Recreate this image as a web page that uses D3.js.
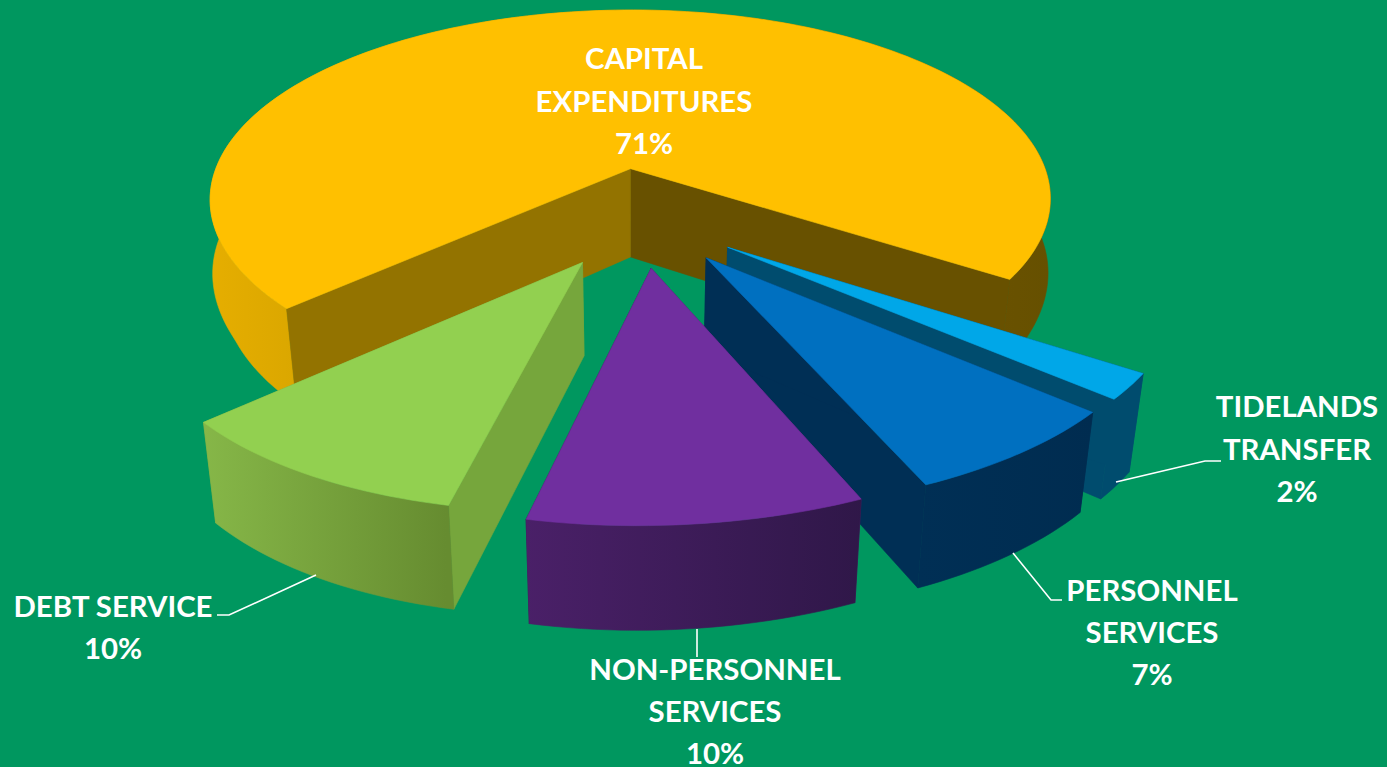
<!DOCTYPE html>
<html>
<head>
<meta charset="utf-8">
<script src="https://cdn.jsdelivr.net/npm/d3@7/dist/d3.min.js"></script>
<style>
html,body{margin:0;padding:0;background:#00975f;overflow:hidden}
svg{display:block}
text{font-family:Lato,"Open Sans",sans-serif;font-weight:700;fill:#fff;text-anchor:middle}
</style>
</head>
<body>
<svg id="c" width="1387" height="767"></svg>
<script>
// Data
const categories = ["CAPITAL EXPENDITURES","TIDELANDS TRANSFER","PERSONNEL SERVICES","NON-PERSONNEL SERVICES","DEBT SERVICE"];
const shares = [71.1,2,7,10.05,9.85];
const labelLines = [["CAPITAL","EXPENDITURES"],["TIDELANDS","TRANSFER"],["PERSONNEL","SERVICES"],["NON-PERSONNEL","SERVICES"],["DEBT SERVICE"]];

// Layout and style
const W=1387,H=767;
const cam={cx:639,cy:216.5,R:432,K:200,p:0.168,depth:91,q:0.12,taper:0.972,explode:0.25,skewX:8.7,skewY:3.5,flare:0.08,flareV:0.15};
const styles=[
 {top:"#ffc000",start:"#685100",end:"#937300",wall:[["0%","#e6ae00"],["9%","#dca800"],["50%","#b08700"],["92%","#6a5200"],["100%","#665000"]],wx:[208,1050]},
 {top:"#00a7e8",start:"#004c6e",end:"#004c6e",wall:[["0%","#004c6e"],["100%","#004c6e"]],wx:[1100,1145]},
 {top:"#0070c0",start:"#002f55",end:"#002f55",wall:[["0%","#002f55"],["100%","#002c50"]],wx:[920,1095]},
 {top:"#702f9f",start:"#32184e",end:"#4a2068",wall:[["0%","#4a2068"],["100%","#2f1748"]],wx:[525,865]},
 {top:"#92d050",start:"#76a63c",end:"#76a63c",explode:0.255,radius:0.98,wall:[["0%","#86b748"],["100%","#668c30"]],wx:[203,446]}
];
const labelPos=[
 {x:644,y:[69,112,154]},
 {x:1297,y:[417,460,502]},
 {x:1152,y:[601,643,685]},
 {x:715,y:[680,722,764]},
 {x:113,y:[617,659]}
];
const leaders=[null,
 [[1116,482],[1205,461],[1221,461]],
 [[1013,553],[1051,600],[1062,600]],
 [[697,629],[697,657]],
 [[217,615],[229,615],[316,575]]
];
const paintOrder=[0,1,2,4,3];

const svg=d3.select("#c");
const defs=svg.append("defs");
svg.append("rect").attr("width",W).attr("height",H).attr("fill","#00975f");

const pie=d3.pie().sort(null).startAngle(-132.7*Math.PI/180).endAngle((360-132.7)*Math.PI/180);
const arcs=pie(shares);
const line=d3.line();
const proj=(u,v,z)=>{
  const w=1-cam.p*v, f=Math.pow(Math.max(0,v),3);
  let x=cam.cx+cam.R*u/w-cam.skewX*f, y=cam.cy+cam.K*v/w-cam.skewY*f;
  if(z){
    const t=cam.taper+cam.flare*Math.max(0,cam.flareV-v);
    x=cam.cx+(x-cam.cx)*t; y+=cam.depth*(1+cam.q*v);
  }
  return [x,y];
};

paintOrder.forEach(i=>{
  const a=arcs[i], st=styles[i];
  const mid=(a.startAngle+a.endAngle)/2, ex=st.explode||cam.explode, r=st.radius||1;
  const ox=Math.sin(mid)*ex, oy=-Math.cos(mid)*ex;
  const n=Math.max(8,Math.round((a.endAngle-a.startAngle)*40));
  const angs=d3.range(n+1).map(k=>a.startAngle+(a.endAngle-a.startAngle)*k/n);
  const rim=z=>angs.map(t=>proj(ox+r*Math.sin(t),oy-r*Math.cos(t),z));
  const apex=z=>proj(ox,oy,z);
  const g=svg.append("g").attr("class","slice").attr("data-name",categories[i]);
  const gid="wall"+i;
  const lg=defs.append("linearGradient").attr("id",gid).attr("gradientUnits","userSpaceOnUse")
    .attr("x1",st.wx[0]).attr("x2",st.wx[1]).attr("y1",0).attr("y2",0);
  st.wall.forEach(s=>lg.append("stop").attr("offset",s[0]).attr("stop-color",s[1]));
  const rt=rim(0), rb=rim(1);
  const face=(pts,fill)=>g.append("path").attr("d",line(pts)+"Z").attr("fill",fill).attr("stroke",fill).attr("stroke-width",0.6);
  const wall=()=>face(rt.concat(rb.slice().reverse()),`url(#${gid})`);
  if(i===0) wall();
  // cut faces: end-of-arc side and start-of-arc side
  face([apex(0),rt[n],rb[n],apex(1)],st.start);
  face([apex(0),rt[0],rb[0],apex(1)],st.end);
  if(i!==0) wall();
  face([apex(0)].concat(rt),st.top);
});

// Leader lines
svg.append("g").selectAll("path").data(leaders.filter(Boolean)).join("path")
  .attr("d",d=>line(d)).attr("fill","none").attr("stroke","#fff").attr("stroke-width",1.6);

// Labels
const fs=29.4;
categories.forEach((c,i)=>{
  const lines=labelLines[i].concat(Math.round(shares[i])+"%");
  const t=svg.append("text").attr("font-size",fs);
  lines.forEach((s,k)=>t.append("tspan").attr("x",labelPos[i].x).attr("y",labelPos[i].y[k]).text(s));
});
</script>
</body>
</html>
